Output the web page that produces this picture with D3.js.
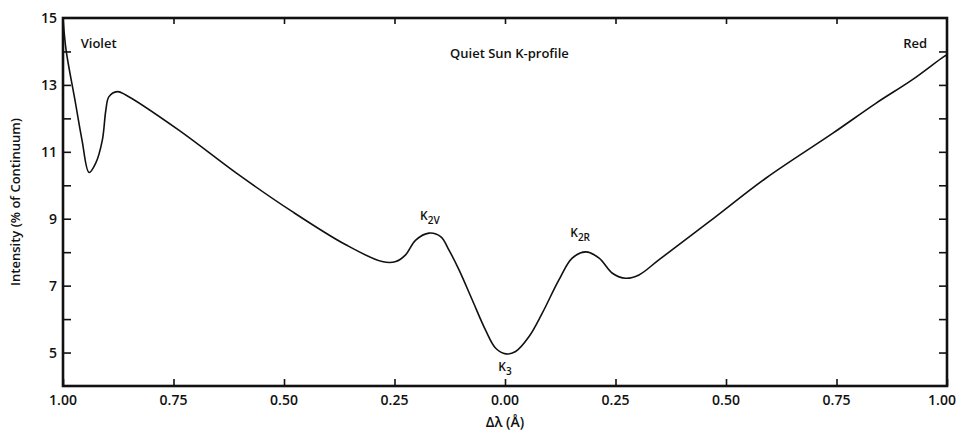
<!DOCTYPE html>
<html>
<head>
<meta charset="utf-8">
<script src="https://cdn.jsdelivr.net/npm/d3@7"></script>
<style>
  body { margin: 0; background: #fff; }
  text { font-family: 'Open Sans', sans-serif; fill: #111; }
</style>
</head>
<body>
<script>
var width = 959;
var height = 436;

// profile: delta lambda (A, violet negative), intensity (% of continuum)
var dLambda = [-1.00, -0.993, -0.973, -0.957, -0.941, -0.926, -0.911, -0.903, -0.896, -0.877,
    -0.858, -0.738, -0.602, -0.481, -0.360, -0.278, -0.247, -0.225, -0.202, -0.172,
    -0.145, -0.127, -0.104, -0.074, -0.044, -0.021, 0.002, 0.024, 0.054, 0.084,
    0.122, 0.152, 0.183, 0.213, 0.243, 0.273, 0.303, 0.348, 0.462, 0.590,
    0.741, 0.839, 0.921, 0.992, 1.00]
var intensity = [15.0, 14.04, 12.55, 11.35, 10.38, 10.66, 11.35, 12.25, 12.65, 12.80,
    12.70, 11.65, 10.31, 9.21, 8.22, 7.72, 7.72, 7.92, 8.36, 8.57,
    8.46, 8.07, 7.47, 6.57, 5.67, 5.13, 4.96, 5.03, 5.47, 6.17,
    7.17, 7.82, 8.01, 7.82, 7.37, 7.22, 7.32, 7.77, 8.91, 10.21,
    11.55, 12.45, 13.15, 13.84, 13.9]

var xTicks = [-1, -0.75, -0.5, -0.25, 0, 0.25, 0.5, 0.75, 1]
var yMajor = [5, 7, 9, 11, 13, 15]
var yMinor = [5, 6, 7, 8, 9, 10, 11, 12, 13, 14]

// line labels: name, subscript, position in data units
var marks = [
    {name: 'K', sub: '2V', x: -0.17, y: 8.95},
    {name: 'K', sub: '2R', x: 0.17, y: 8.45},
    {name: 'K', sub: '3', x: 0.0, y: 4.45}
]

var x = d3.scaleLinear().domain([-1, 1]).range([63, 947])
var y = d3.scaleLinear().domain([4, 15]).range([386, 18])

var svg = d3.select('body').append('svg')
    .attr('width', width)
    .attr('height', height)

var data = dLambda.map((d, i) => ({x: d, y: intensity[i]}))

// axes with inward ticks
var fmt = d => d3.format('.2f')(Math.abs(d))
svg.append('g')
    .attr('transform', 'translate(0,' + y(4) + ')')
    .call(d3.axisTop(x).tickValues(xTicks).tickSize(7).tickFormat(''))
svg.append('g')
    .attr('transform', 'translate(0,' + y(15) + ')')
    .call(d3.axisBottom(x).tickValues(xTicks.slice(1, -1)).tickSize(6).tickFormat(''))
svg.append('g')
    .attr('transform', 'translate(' + x(-1) + ',0)')
    .call(d3.axisRight(y).tickValues(yMinor).tickSize(8).tickFormat(''))
svg.append('g')
    .attr('transform', 'translate(' + x(1) + ',0)')
    .call(d3.axisLeft(y).tickValues(yMinor).tickSize(8).tickFormat(''))
svg.selectAll('.domain').remove()
svg.selectAll('.tick line').attr('stroke', '#111').attr('stroke-width', 1.6)

// frame
svg.append('rect')
    .attr('x', x(-1)).attr('y', y(15))
    .attr('width', x(1) - x(-1)).attr('height', y(4) - y(15))
    .attr('fill', 'none').attr('stroke', '#111').attr('stroke-width', 2.6)

// tick labels (last one kept inside the page)
svg.append('g').selectAll('text')
    .data(xTicks).enter()
    .append('text')
        .attr('x', d => Math.min(x(d), width - 17))
        .attr('y', y(4) + 19)
        .attr('text-anchor', 'middle')
        .attr('font-size', '14px')
        .attr('font-weight', 600)
        .text(fmt)

svg.append('g').selectAll('text')
    .data(yMajor).enter()
    .append('text')
        .attr('x', x(-1) - 6)
        .attr('y', d => y(d) + 5)
        .attr('text-anchor', 'end')
        .attr('font-size', '14px')
        .attr('font-weight', 600)
        .text(d => d)

// axis titles
svg.append('text')
    .attr('transform', 'translate(20,' + y(9.5) + ') rotate(-90)')
    .attr('text-anchor', 'middle')
    .attr('font-size', '13px')
    .attr('font-weight', 600)
    .text('Intensity (% of Continuum)')

svg.append('text')
    .attr('x', x(0))
    .attr('y', 427)
    .attr('text-anchor', 'middle')
    .attr('font-size', '14px')
    .attr('font-weight', 600)
    .text('Δλ (Å)')

// profile
var line = d3.line()
    .x(d => x(d.x))
    .y(d => y(d.y))
    .curve(d3.curveCatmullRom.alpha(0.5))

svg.append('path')
    .datum(data)
    .attr('d', line)
    .attr('fill', 'none')
    .attr('stroke', '#111')
    .attr('stroke-width', 1.6)

// annotations
svg.append('text')
    .attr('x', x(-0.96)).attr('y', y(14.1))
    .attr('font-size', '13px').attr('font-weight', 600)
    .text('Violet')
svg.append('text')
    .attr('x', x(0.955)).attr('y', y(14.1))
    .attr('text-anchor', 'end')
    .attr('font-size', '13px').attr('font-weight', 600)
    .text('Red')
svg.append('text')
    .attr('x', x(0.01)).attr('y', y(13.8))
    .attr('text-anchor', 'middle')
    .attr('font-size', '13px').attr('font-weight', 600)
    .text('Quiet Sun K-profile')

var lbl = svg.append('g').selectAll('text')
    .data(marks).enter()
    .append('text')
        .attr('x', d => x(d.x))
        .attr('y', d => y(d.y))
        .attr('text-anchor', 'middle')
        .attr('font-size', '12px')
        .attr('font-weight', 600)
lbl.append('tspan').text(d => d.name)
lbl.append('tspan')
    .attr('dy', 4)
    .attr('font-size', '10px')
    .text(d => d.sub)
</script>
</body>
</html>
